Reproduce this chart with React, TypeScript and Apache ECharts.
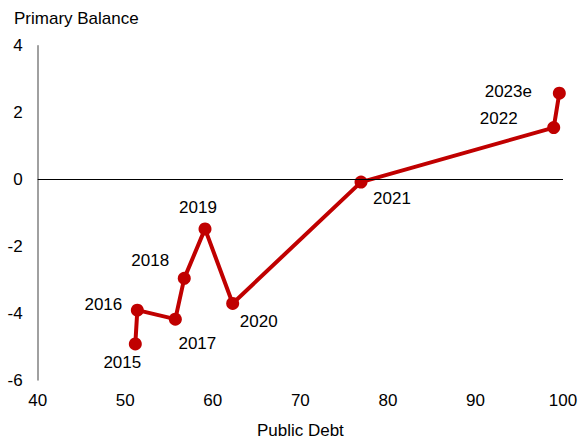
import React, { useEffect, useRef } from "react";
import * as echarts from "echarts";

const years = ["2015", "2016", "2017", "2018", "2019", "2020", "2021", "2022", "2023e"];
const publicDebt = [51.15, 51.38, 55.72, 56.74, 59.11, 62.27, 76.93, 98.94, 99.58];
const primaryBalance = [-4.92, -3.91, -4.18, -2.96, -1.48, -3.71, -0.08, 1.55, 2.58];
const labelOffsets: [number, number][] = [
  [-13, 19], [-34, -6], [22, 24], [-34, -18], [-7, -21], [26, 18], [31, 16], [-55, -9], [-51, -2],
];

const FONT = "Liberation Sans, Arial, sans-serif";

export default function App() {
  const ref = useRef<HTMLDivElement>(null);
  useEffect(() => {
    const chart = echarts.init(ref.current!, null, { renderer: "svg" });
    const data = years.map((y, i) => ({
      value: [publicDebt[i], primaryBalance[i]],
      name: y,
      label: { offset: labelOffsets[i] },
    }));
    chart.setOption({
      animation: false,
      textStyle: { fontFamily: FONT },
      grid: { left: 37.7, right: 15, top: 45.7, bottom: 59, outerBoundsMode: "none", containLabel: false },
      graphic: [
        {
          type: "text",
          left: 14,
          top: 10,
          style: { text: "Primary Balance", fontSize: 17, fontFamily: FONT, fill: "#000" },
        },
      ],
      xAxis: {
        type: "value",
        min: 40,
        max: 100,
        interval: 10,
        name: "Public Debt",
        nameLocation: "middle",
        nameGap: 42,
        nameTextStyle: { fontSize: 17, lineHeight: 16, color: "#000", fontFamily: FONT },
        axisLine: { show: false },
        axisTick: { show: false },
        splitLine: { show: false },
        axisLabel: { fontSize: 17, color: "#000", margin: 12, fontFamily: FONT },
      },
      yAxis: {
        type: "value",
        min: -6,
        max: 4,
        interval: 2,
        axisLine: { show: true, onZero: false, lineStyle: { color: "#808080", width: 1.5 } },
        axisTick: { show: false },
        splitLine: { show: false },
        axisLabel: { fontSize: 17, color: "#000", margin: 15, fontFamily: FONT },
      },
      series: [
        {
          type: "line",
          data,
          lineStyle: { color: "#C00000", width: 4 },
          itemStyle: { color: "#C00000" },
          symbol: "circle",
          symbolSize: 13,
          label: {
            show: true,
            position: "inside",
            formatter: (p: any) => p.name,
            fontSize: 17,
            color: "#000",
            fontFamily: FONT,
          },
          markLine: {
            silent: true,
            symbol: "none",
            label: { show: false },
            lineStyle: { color: "#000", width: 1, type: "solid" },
            data: [{ yAxis: 0 }],
          },
          z: 3,
        },
      ],
    });
    return () => chart.dispose();
  }, []);
  return <div ref={ref} style={{ width: 578, height: 439, position: "absolute", left: 0, top: 0 }} />;
}
